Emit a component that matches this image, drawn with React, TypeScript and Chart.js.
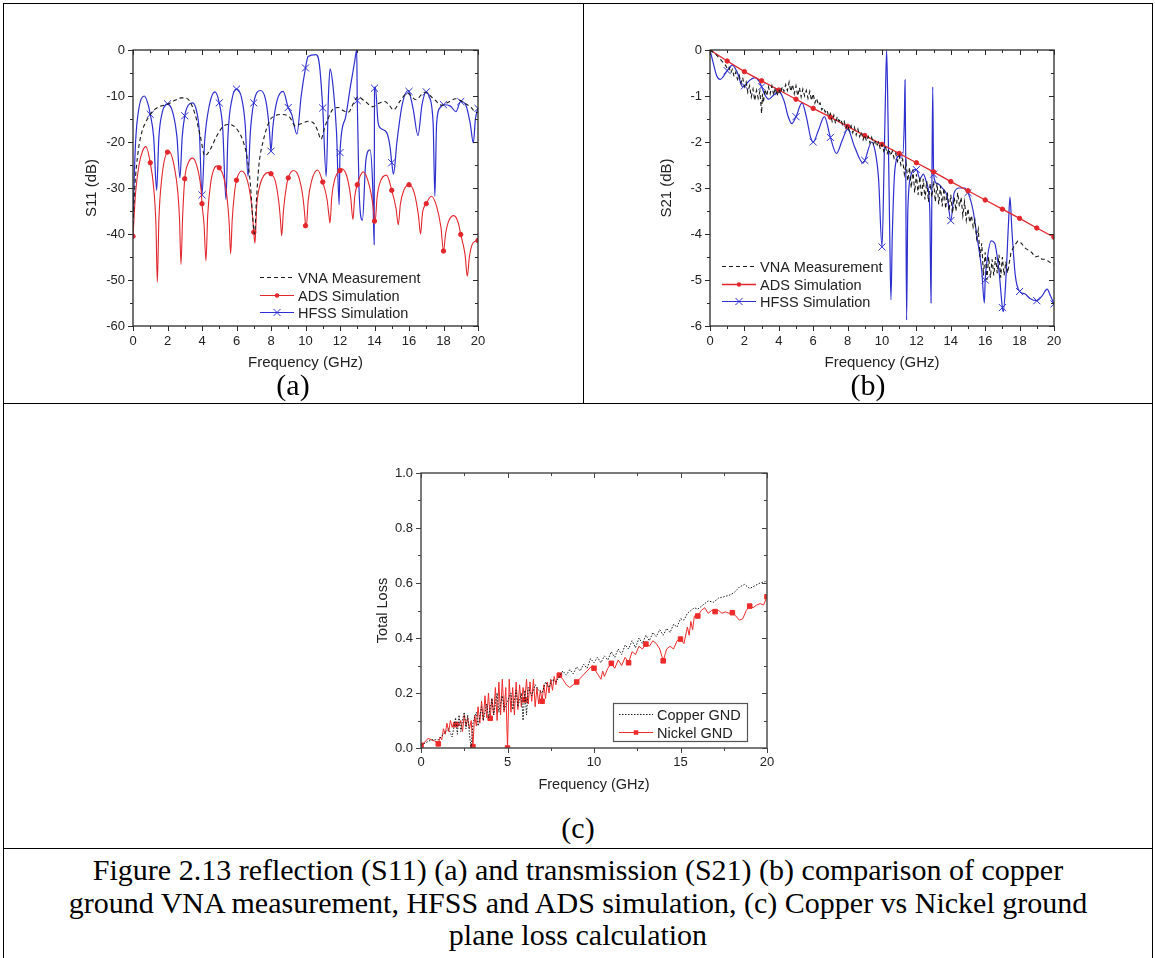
import React, { useEffect, useRef } from 'react';
import { Chart, registerables } from 'chart.js';
Chart.register(...registerables);

type Pt = [number, number];

// ================= DATA =================
// (a) S11 (dB) vs Frequency (GHz)
const s11VnaPts: Pt[] = [
  [0, -38], [0.1, -30], [0.3, -22], [0.5, -18], [0.7, -16], [1.0, -14], [1.3, -12.8], [1.6, -12.2], [2.0, -11.8],
  [2.4, -11], [2.8, -10.4], [3.1, -10.5], [3.3, -11.2], [3.6, -14], [3.9, -18.7], [4.17, -23], [4.5, -21.5],
  [4.85, -18.7], [5.3, -16.4], [5.6, -16.2], [6.1, -17.6], [6.4, -20], [6.6, -23], [6.8, -29], [6.95, -37],
  [7.05, -40], [7.15, -33], [7.3, -25], [7.54, -19.9], [7.92, -15.4], [8.3, -14.2], [8.6, -14], [9.1, -14.7],
  [9.4, -16.5], [9.7, -16.1], [10.2, -15.5], [10.5, -16], [10.7, -17.5], [10.9, -19.4], [11.1, -17], [11.3, -15],
  [11.58, -12.9], [11.9, -12.5], [12.2, -13.2], [12.5, -13.5], [12.75, -11.8], [13.04, -10.2], [13.4, -11],
  [13.9, -12.3], [14.25, -11.6], [14.6, -11.2], [14.85, -12], [15.1, -13], [15.5, -11], [15.9, -9.4], [16.4, -10.8],
  [16.9, -9.2], [17.4, -10.5], [17.9, -12], [18.3, -11.3], [18.7, -10.6], [19.2, -11.5], [19.6, -12.5], [19.9, -13.6],
  [20, -13.5],
];
const s11AdsPts: Pt[] = [
  [0, -40.5], [0.15, -31], [0.35, -25], [0.55, -22], [0.75, -21], [1, -24.5], [1.2, -30], [1.33, -38], [1.41, -50.5],
  [1.5, -37], [1.65, -28.5], [2, -22.2], [2.1, -22.1], [2.4, -25.5], [2.6, -31], [2.7, -37], [2.78, -46.6], [2.88, -36],
  [3, -28], [3.2, -24.6], [3.45, -23.5], [3.7, -25.2], [3.95, -30.5], [4, -33.4], [4.12, -38], [4.23, -45.8],
  [4.33, -36], [4.5, -29], [4.7, -25.8], [4.9, -25.2], [5, -25.6], [5.25, -27.5], [5.45, -32], [5.58, -38],
  [5.66, -44.3], [5.75, -37], [5.9, -30.5], [6, -28.3], [6.3, -26.3], [6.6, -28], [6.8, -31.5], [6.92, -35.5],
  [7, -39.6], [7.07, -42], [7.17, -34], [7.35, -29.5], [7.6, -27.2], [7.85, -26.6], [8, -26.9], [8.25, -28.5],
  [8.45, -33], [8.55, -37], [8.62, -40.4], [8.72, -35], [8.9, -29.5], [9, -27.8], [9.3, -26.2], [9.6, -27.5],
  [9.85, -32], [9.97, -36.5], [10, -38.2], [10.05, -38.5], [10.15, -33], [10.35, -28.5], [10.7, -26.1], [11, -28.7],
  [11.25, -32.5], [11.36, -36], [11.42, -37.6], [11.52, -32], [11.7, -28], [12, -26.2], [12.1, -25.8], [12.4, -27.5],
  [12.62, -32], [12.75, -36.9], [12.85, -32], [13, -29.3], [13.35, -26.5], [13.7, -29.5], [13.92, -34], [14, -37.2],
  [14.03, -37.6], [14.15, -32], [14.35, -28.5], [14.7, -27.2], [15, -30.5], [15.25, -34.5], [15.38, -38], [15.5, -33.5],
  [15.7, -30.5], [16, -29.3], [16.3, -31], [16.55, -36], [16.67, -40], [16.78, -35.5], [17, -33.4], [17.3, -31.8],
  [17.6, -34], [17.85, -38.5], [18, -43.7], [18.12, -40], [18.3, -37.2], [18.6, -36], [18.85, -37.5], [19, -40.1],
  [19.25, -44.5], [19.38, -49.2], [19.5, -45], [19.7, -42], [20, -41.4],
];
const s11HfssPts: Pt[] = [
  [0, -36], [0.15, -20], [0.35, -12.5], [0.65, -10], [0.85, -11.5], [1, -14], [1.2, -19], [1.37, -30.5], [1.5, -19],
  [1.7, -13.5], [2, -11.7], [2.3, -13.5], [2.55, -19], [2.72, -27.8], [2.85, -19], [3, -14.3], [3.2, -12], [3.45, -11.5],
  [3.7, -13.5], [3.85, -18], [4, -31.5], [4.15, -20], [4.4, -12.5], [4.75, -9.1], [5, -11.5], [5.2, -17], [5.39, -32.5],
  [5.5, -19], [5.75, -10.5], [6, -8.5], [6.3, -10.5], [6.5, -16], [6.67, -27.5], [6.8, -18], [7, -11.5], [7.4, -8.8],
  [7.7, -11], [7.9, -17], [8, -22], [8.1, -17], [8.35, -11], [8.7, -9], [9, -12.5], [9.2, -14], [9.5, -18.3],
  [9.75, -10], [10, -3.9], [10.15, -1.4], [10.6, -1.0], [10.8, -3], [11, -12.6], [11.2, -27.5], [11.33, -10],
  [11.42, -4.1], [11.6, -8], [11.8, -18], [11.95, -33.6], [12, -22.3], [12.3, -15], [12.6, -8], [12.85, -2.5],
  [12.97, 0], [13, -11], [13.1, -30], [13.3, -37], [13.5, -24], [13.74, -21.7], [13.9, -30], [13.98, -42.3], [14, -8.3],
  [14.05, -8], [14.2, -15.5], [14.35, -17], [14.7, -17.9], [14.9, -21], [15, -24.5], [15.1, -27], [15.3, -20],
  [15.6, -12], [15.94, -8.8], [16, -9], [16.25, -13], [16.52, -18.6], [16.75, -12], [17, -9.1], [17.15, -10],
  [17.4, -16], [17.5, -31.8], [17.6, -16], [17.8, -12.5], [18, -11.9], [18.4, -12.2], [18.72, -13.4], [19, -11.2],
  [19.3, -12], [19.55, -16], [19.73, -20.2], [19.85, -15], [20, -12.7],
];

// (b) S21 (dB) vs Frequency (GHz)
const s21VnaPts: Pt[] = [
  [0, 0], [0.3, -0.08], [0.6, -0.2], [0.9, -0.33], [1.0, -0.4], [1.1, -0.36], [1.2, -0.5], [1.3, -0.42], [1.4, -0.58],
  [1.5, -0.48], [1.6, -0.64], [1.7, -0.55], [1.8, -0.72], [1.9, -0.6], [2.0, -0.8], [2.1, -0.7], [2.2, -0.92],
  [2.3, -0.78], [2.4, -1.02], [2.5, -0.85], [2.6, -1.1], [2.7, -0.88], [2.8, -1.05], [2.9, -0.9], [3.0, -1.38],
  [3.05, -0.95], [3.1, -1.15], [3.2, -0.85], [3.3, -1.0], [3.4, -0.8], [3.5, -0.95], [3.6, -0.78], [3.7, -0.98],
  [3.8, -0.82], [3.9, -1.0], [4.0, -0.85], [4.1, -0.95], [4.2, -0.8], [4.3, -0.9], [4.4, -0.75], [4.5, -0.88],
  [4.6, -0.7], [4.7, -0.9], [4.8, -0.75], [4.9, -0.95], [5.0, -0.78], [5.1, -1.0], [5.2, -0.82], [5.3, -1.02],
  [5.4, -0.85], [5.5, -1.0], [5.6, -0.88], [5.7, -1.05], [5.8, -0.9], [5.9, -1.1], [6.0, -0.95], [6.1, -1.15],
  [6.2, -1.05], [6.3, -1.2], [6.4, -1.15], [6.5, -1.3], [6.6, -1.25], [6.7, -1.35], [6.8, -1.3], [6.9, -1.45],
  [7.0, -1.38], [7.1, -1.55], [7.2, -1.42], [7.3, -1.6], [7.4, -1.45], [7.5, -1.55], [7.6, -1.5], [7.7, -1.62],
  [7.8, -1.55], [7.9, -1.7], [8.0, -1.62], [8.1, -1.75], [8.2, -1.65], [8.3, -1.8], [8.4, -1.68], [8.5, -1.85],
  [8.6, -1.72], [8.7, -1.88], [8.8, -1.78], [8.9, -1.95], [9.0, -1.85], [9.1, -1.98], [9.2, -1.88], [9.3, -2.02],
  [9.4, -1.9], [9.5, -2.05], [9.6, -1.95], [9.7, -2.1], [9.8, -2.0], [9.9, -2.15], [10.0, -2.05], [10.1, -2.2],
  [10.2, -2.1], [10.3, -2.25], [10.4, -2.15], [10.5, -2.3], [10.6, -2.2], [10.7, -2.35], [10.8, -2.25], [10.9, -2.42],
  [11.0, -2.3], [11.1, -2.5], [11.2, -2.38], [11.3, -2.7], [11.4, -2.45], [11.5, -2.85], [11.6, -2.55], [11.7, -3.0],
  [11.8, -2.6], [11.9, -3.1], [12.0, -2.7], [12.1, -3.15], [12.2, -2.75], [12.3, -3.2], [12.4, -2.8], [12.5, -3.25],
  [12.6, -2.85], [12.7, -3.3], [12.8, -2.9], [12.9, -3.2], [13.0, -2.85], [13.1, -3.3], [13.2, -2.9], [13.3, -3.35],
  [13.4, -2.95], [13.5, -3.4], [13.6, -3.0], [13.7, -3.45], [13.8, -3.1], [13.9, -3.5], [14.0, -3.15], [14.1, -3.55],
  [14.2, -3.2], [14.3, -3.5], [14.4, -3.1], [14.5, -3.4], [14.6, -3.2], [14.7, -3.6], [14.8, -3.3], [14.9, -3.7],
  [15.0, -3.45], [15.1, -3.75], [15.2, -3.6], [15.3, -3.85], [15.4, -3.7], [15.5, -4.1], [15.6, -3.9], [15.7, -4.5],
  [15.8, -4.2], [15.9, -4.9], [16.0, -4.4], [16.1, -5.0], [16.2, -4.5], [16.3, -4.95], [16.4, -4.55], [16.5, -4.9],
  [16.6, -4.5], [16.7, -4.85], [16.8, -4.45], [16.9, -4.95], [17.0, -4.5], [17.1, -4.9], [17.2, -4.6], [17.3, -4.85],
  [17.5, -4.4], [17.7, -4.25], [17.9, -4.15], [18.1, -4.2], [18.3, -4.3], [18.5, -4.35], [18.7, -4.4], [18.9, -4.5],
  [19.1, -4.48], [19.3, -4.55], [19.5, -4.55], [19.7, -4.6], [19.9, -4.65], [20.0, -4.65],
];
const s21AdsPts: Pt[] = [
  [0, 0], [1, -0.24], [2, -0.47], [3, -0.67], [4, -0.87], [5, -1.07], [6, -1.27], [7, -1.46], [8, -1.66], [9, -1.86],
  [10, -2.05], [11, -2.25], [12, -2.45], [13, -2.65], [14, -2.86], [15, -3.06], [16, -3.26], [17, -3.46], [18, -3.66],
  [19, -3.87], [20, -4.07],
];
const s21HfssPts: Pt[] = [
  [0, 0], [0.2, -0.3], [0.4, -0.57], [0.6, -0.64], [0.8, -0.56], [1, -0.45], [1.3, -0.33], [1.6, -0.5], [1.9, -0.8],
  [2, -0.78], [2.3, -0.66], [2.6, -0.6], [2.85, -0.68], [3, -0.8], [3.2, -0.98], [3.4, -1.07], [3.7, -0.98], [4, -0.9],
  [4.3, -1.1], [4.55, -1.45], [4.75, -1.6], [5, -1.45], [5.35, -1.15], [5.6, -1.45], [5.85, -1.9], [6, -2.0],
  [6.3, -1.75], [6.65, -1.45], [7, -1.9], [7.35, -2.25], [7.7, -1.95], [8, -1.72], [8.4, -2.1], [8.9, -2.46], [9, -2.4],
  [9.4, -2.0], [9.6, -2.2], [9.8, -2.8], [10, -4.28], [10.12, -2.5], [10.2, -1.0], [10.27, 0], [10.35, -1.5],
  [10.45, -4.0], [10.52, -5.43], [10.6, -4.0], [10.75, -2.6], [11, -2.3], [11.2, -2.3], [11.3, -1.5], [11.34, -0.65],
  [11.38, -2.5], [11.43, -5.87], [11.5, -3.5], [11.7, -2.7], [11.9, -2.6], [12, -2.6], [12.2, -2.8], [12.4, -2.7],
  [12.6, -2.9], [12.78, -3.5], [12.85, -5.5], [12.9, -3.0], [12.95, -0.8], [13, -2.7], [13.2, -2.9], [13.5, -3.0],
  [13.8, -3.2], [14, -3.71], [14.2, -3.1], [14.5, -3.0], [14.8, -3.0], [15, -3.1], [15.3, -3.5], [15.5, -4.0],
  [15.8, -4.8], [15.95, -5.5], [16, -5.0], [16.1, -4.6], [16.35, -4.15], [16.55, -4.2], [16.8, -4.8], [17, -5.6],
  [17.05, -5.69], [17.2, -5.0], [17.35, -3.8], [17.44, -3.2], [17.55, -3.9], [17.75, -4.9], [18, -5.25], [18.3, -5.3],
  [18.6, -5.4], [19, -5.45], [19.3, -5.35], [19.6, -5.2], [19.8, -5.35], [20, -5.52],
];

// (c) Total Loss vs Frequency (GHz)
const lossCopperPts: Pt[] = [
  [0, 0.01], [0.3, 0.02], [0.6, 0.03], [1.0, 0.03], [1.3, 0.05], [1.6, 0.07], [1.8, 0.04], [2.0, 0.11], [2.1, 0.05],
  [2.2, 0.12], [2.3, 0.06], [2.4, 0.1], [2.5, 0.13], [2.6, 0.07], [2.7, 0.12], [2.8, 0.05], [2.9, 0.0], [3.0, 0.09],
  [3.2, 0.13], [3.3, 0.08], [3.5, 0.15], [3.6, 0.1], [3.8, 0.16], [3.9, 0.11], [4.1, 0.18], [4.2, 0.12], [4.4, 0.2],
  [4.5, 0.13], [4.7, 0.19], [4.8, 0.14], [5.0, 0.17], [5.2, 0.2], [5.3, 0.14], [5.5, 0.21], [5.6, 0.15], [5.8, 0.2],
  [5.9, 0.1], [6.0, 0.21], [6.1, 0.12], [6.2, 0.22], [6.4, 0.19], [6.6, 0.23], [6.8, 0.21], [7.0, 0.2], [7.2, 0.24],
  [7.4, 0.22], [7.6, 0.25], [7.8, 0.24], [8.0, 0.26], [8.2, 0.28], [8.4, 0.265], [8.6, 0.285], [8.8, 0.27],
  [9.0, 0.295], [9.2, 0.28], [9.4, 0.305], [9.6, 0.29], [9.8, 0.325], [10.0, 0.31], [10.2, 0.33], [10.4, 0.31],
  [10.6, 0.335], [10.8, 0.32], [11.0, 0.35], [11.2, 0.33], [11.4, 0.36], [11.6, 0.34], [11.8, 0.375], [12.0, 0.36],
  [12.2, 0.39], [12.4, 0.365], [12.6, 0.4], [12.8, 0.38], [13.0, 0.41], [13.2, 0.39], [13.4, 0.42], [13.6, 0.405],
  [13.8, 0.43], [14.0, 0.41], [14.2, 0.435], [14.4, 0.42], [14.6, 0.45], [14.8, 0.44], [15.0, 0.47], [15.2, 0.465],
  [15.4, 0.49], [15.6, 0.5], [15.8, 0.51], [16.0, 0.505], [16.3, 0.52], [16.6, 0.535], [16.9, 0.53], [17.2, 0.545],
  [17.5, 0.55], [17.8, 0.555], [18.1, 0.565], [18.4, 0.585], [18.7, 0.595], [19.0, 0.58], [19.3, 0.59], [19.6, 0.6],
  [19.9, 0.605], [20.0, 0.61],
];
const lossNickelPts: Pt[] = [
  [0, 0.01], [0.2, 0.02], [0.4, 0.035], [0.6, 0.03], [0.8, 0.025], [1.0, 0.015], [1.1, 0.04], [1.2, 0.03], [1.3, 0.07],
  [1.4, 0.05], [1.5, 0.09], [1.6, 0.06], [1.7, 0.1], [1.8, 0.075], [1.9, 0.09], [2.0, 0.085], [2.1, 0.095], [2.2, 0.08],
  [2.3, 0.1], [2.4, 0.06], [2.5, 0.12], [2.6, 0.08], [2.7, 0.11], [2.8, 0.07], [2.9, 0.1], [3.0, 0.005], [3.1, 0.12],
  [3.2, 0.08], [3.3, 0.15], [3.4, 0.09], [3.5, 0.17], [3.6, 0.1], [3.7, 0.19], [3.8, 0.11], [3.9, 0.2], [4.0, 0.108],
  [4.1, 0.18], [4.2, 0.12], [4.3, 0.22], [4.4, 0.1], [4.5, 0.24], [4.6, 0.12], [4.7, 0.25], [4.8, 0.13], [4.9, 0.22],
  [5.0, 0.0], [5.1, 0.25], [5.2, 0.13], [5.3, 0.22], [5.4, 0.12], [5.5, 0.24], [5.6, 0.14], [5.7, 0.23], [5.8, 0.15],
  [5.9, 0.22], [6.0, 0.175], [6.1, 0.25], [6.2, 0.16], [6.3, 0.24], [6.4, 0.17], [6.5, 0.25], [6.6, 0.15], [6.7, 0.22],
  [6.8, 0.16], [6.9, 0.21], [7.0, 0.17], [7.1, 0.23], [7.2, 0.18], [7.3, 0.24], [7.4, 0.2], [7.5, 0.25], [7.6, 0.21],
  [7.7, 0.26], [7.8, 0.23], [7.9, 0.27], [8.0, 0.265], [8.2, 0.25], [8.4, 0.23], [8.6, 0.22], [8.8, 0.23], [9.0, 0.24],
  [9.3, 0.26], [9.6, 0.28], [9.9, 0.3], [10.0, 0.29], [10.2, 0.27], [10.4, 0.25], [10.5, 0.28], [10.6, 0.26],
  [10.8, 0.29], [11.0, 0.308], [11.2, 0.29], [11.4, 0.32], [11.6, 0.3], [11.8, 0.33], [12.0, 0.31], [12.2, 0.35],
  [12.4, 0.34], [12.6, 0.37], [12.8, 0.36], [13.0, 0.378], [13.2, 0.37], [13.4, 0.39], [13.6, 0.38], [13.8, 0.36],
  [14.0, 0.317], [14.2, 0.36], [14.4, 0.37], [14.6, 0.36], [14.8, 0.39], [15.0, 0.396], [15.2, 0.38], [15.4, 0.44],
  [15.5, 0.41], [15.6, 0.46], [15.7, 0.43], [15.8, 0.48], [16.0, 0.48], [16.2, 0.5], [16.4, 0.51], [16.6, 0.49],
  [16.8, 0.5], [17.0, 0.496], [17.2, 0.5], [17.4, 0.49], [17.6, 0.495], [17.8, 0.49], [18.0, 0.492], [18.2, 0.48],
  [18.4, 0.465], [18.6, 0.47], [18.8, 0.5], [19.0, 0.516], [19.2, 0.51], [19.4, 0.52], [19.6, 0.525], [19.8, 0.52],
  [20.0, 0.55],
];

const namesAB = ['VNA Measurement', 'ADS Simulation', 'HFSS Simulation'];
const namesC = ['Copper GND', 'Nickel GND'];
const panelLabels = ['(a)', '(b)', '(c)'];
const captionLines = [
  'Figure 2.13 reflection (S11) (a) and transmission (S21) (b) comparison of copper',
  'ground VNA measurement, HFSS and ADS simulation, (c) Copper vs Nickel ground',
  'plane loss calculation',
];

// ================= STYLE / HELPERS =================
const SANS = "'Liberation Sans', Arial, sans-serif";
const SERIF = "'Liberation Serif', 'Times New Roman', serif";
const RED = '#e3262c';
const BLUE = '#2d2fd0';
const INK = '#222';

function drawMarker(ctx: CanvasRenderingContext2D, style: string, x: number, y: number, r: number, color: string) {
  ctx.save();
  ctx.setLineDash([]);
  ctx.fillStyle = color;
  ctx.strokeStyle = color;
  ctx.lineWidth = 1;
  if (style === 'circle') {
    ctx.beginPath();
    ctx.arc(x, y, r, 0, Math.PI * 2);
    ctx.fill();
  } else if (style === 'rect') {
    const s = r * Math.SQRT1_2;
    ctx.fillRect(x - s, y - s, 2 * s, 2 * s);
  } else if (style === 'crossRot') {
    const d = r * Math.SQRT1_2;
    ctx.beginPath();
    ctx.moveTo(x - d, y - d);
    ctx.lineTo(x + d, y + d);
    ctx.moveTo(x + d, y - d);
    ctx.lineTo(x - d, y + d);
    ctx.stroke();
  }
  ctx.restore();
}

const framePlugin = {
  id: 'frame',
  afterDraw(chart: any, _args: any, o: any) {
    const { ctx } = chart;
    const { left, right, top, bottom } = chart.chartArea;
    const xs = chart.scales.x;
    const ys = chart.scales.y;
    ctx.save();
    ctx.setLineDash([]);
    ctx.strokeStyle = o.color;
    ctx.lineWidth = o.width;
    ctx.strokeRect(left, top, right - left, bottom - top);
    ctx.lineWidth = 1;
    const nx = Math.round((xs.max - xs.min) / o.xMinor);
    for (let i = 0; i <= nx; i++) {
      const v = xs.min + i * o.xMinor;
      const major = Math.abs(v / o.xMajor - Math.round(v / o.xMajor)) < 1e-6;
      const len = major ? o.majorLen : o.minorLen;
      const px = Math.round(xs.getPixelForValue(v)) + 0.5;
      ctx.beginPath();
      ctx.moveTo(px, bottom);
      ctx.lineTo(px, bottom + len);
      ctx.moveTo(px, top);
      ctx.lineTo(px, top + len);
      ctx.stroke();
    }
    const ny = Math.round((ys.max - ys.min) / o.yMinor);
    for (let i = 0; i <= ny; i++) {
      const v = ys.min + i * o.yMinor;
      const major = Math.abs(v / o.yMajor - Math.round(v / o.yMajor)) < 1e-6;
      const len = major ? o.majorLen : o.minorLen;
      const py = Math.round(ys.getPixelForValue(v)) + 0.5;
      ctx.beginPath();
      ctx.moveTo(left - len, py);
      ctx.lineTo(left, py);
      ctx.moveTo(right - len, py);
      ctx.lineTo(right, py);
      ctx.stroke();
    }
    ctx.restore();
  },
};

const legendPlugin = {
  id: 'boxLegend',
  afterDraw(chart: any, _args: any, o: any) {
    if (!o || !o.rows) return;
    const { ctx } = chart;
    const ca = chart.chartArea;
    const x0 = ca.left + o.x;
    const y0 = ca.top + o.y;
    ctx.save();
    if (o.box) {
      ctx.fillStyle = '#fff';
      ctx.fillRect(ca.left + o.box[0], ca.top + o.box[1], o.box[2], o.box[3]);
      ctx.strokeStyle = '#555';
      ctx.lineWidth = 1.2;
      ctx.strokeRect(ca.left + o.box[0] + 0.5, ca.top + o.box[1] + 0.5, o.box[2], o.box[3]);
    }
    chart.data.datasets.forEach((ds: any, i: number) => {
      const y = Math.round(y0 + i * o.rowH) + 0.5;
      const col = ds.legendColor;
      ctx.save();
      ctx.strokeStyle = col;
      ctx.lineWidth = ds.borderWidth;
      ctx.setLineDash(ds.borderDash || []);
      ctx.beginPath();
      ctx.moveTo(x0, y);
      ctx.lineTo(x0 + o.lineLen, y);
      ctx.stroke();
      ctx.restore();
      if (ds.legendMarker) drawMarker(ctx, ds.legendMarker, x0 + o.lineLen / 2, y, ds.markerR, col);
      ctx.fillStyle = INK;
      ctx.font = `${o.fontSize}px ${SANS}`;
      ctx.textAlign = 'left';
      ctx.textBaseline = 'middle';
      ctx.fillText(ds.label, x0 + o.lineLen + o.gap, y + 1);
    });
    ctx.restore();
  },
};

function makeDataset(label: string, pts: Pt[], s: any) {
  return {
    label,
    data: pts.map(([x, y]) => ({ x, y })),
    borderColor: s.color,
    backgroundColor: s.color,
    borderWidth: s.width,
    borderDash: s.dash || [],
    pointStyle: s.marker || 'circle',
    pointRadius: (c: any) => (s.marker && c.raw && Number.isInteger(c.raw.x) && !(s.skipZero && c.raw.x === 0) ? s.markerR : 0),
    pointHoverRadius: 0,
    pointBackgroundColor: s.color,
    pointBorderColor: s.color,
    pointBorderWidth: 1,
    cubicInterpolationMode: s.smooth ? 'monotone' : 'default',
    tension: 0,
    fill: false,
    legendMarker: s.marker || null,
    legendColor: s.color,
    markerR: s.markerR || 0,
  };
}

type PanelSpec = {
  canvas: [number, number, number, number]; // left, top, width, height (page px)
  plot: [number, number, number, number]; // left, top, right, bottom (page px)
  yW: number;
  xH: number;
  xPad: number;
  datasets: any[];
  x: any;
  y: any;
  frame: any;
  legend: any;
};

function buildConfig(p: PanelSpec) {
  const [cl, ct, cw, ch] = p.canvas;
  const [pl, pt, pr, pb] = p.plot;
  const padding = {
    left: pl - cl - p.yW,
    top: pt - ct,
    right: cl + cw - pr,
    bottom: ct + ch - pb - p.xH,
  };
  return {
    type: 'line',
    data: { datasets: p.datasets },
    options: {
      animation: false,
      responsive: false,
      devicePixelRatio: 1,
      layout: { padding },
      plugins: {
        legend: { display: false },
        tooltip: { enabled: false },
        frame: p.frame,
        boxLegend: p.legend,
      },
      scales: {
        x: {
          type: 'linear',
          position: 'bottom',
          min: p.x.min,
          max: p.x.max,
          grid: { display: false, drawTicks: false },
          border: { display: false },
          ticks: {
            stepSize: p.x.step,
            autoSkip: false,
            maxRotation: 0,
            padding: p.xPad,
            color: INK,
            font: { family: SANS, size: p.x.tickSize },
            callback: p.x.fmt,
          },
          title: {
            display: true,
            text: p.x.title,
            color: INK,
            font: { family: SANS, size: p.x.titleSize },
            padding: { top: 0, bottom: 0 },
          },
          afterFit: (s: any) => {
            s.height = p.xH;
            s.paddingLeft = 0;
            s.paddingRight = 0;
          },
        },
        y: {
          type: 'linear',
          position: 'left',
          min: p.y.min,
          max: p.y.max,
          grid: { display: false, drawTicks: false },
          border: { display: false },
          ticks: {
            stepSize: p.y.step,
            autoSkip: false,
            padding: 8,
            color: INK,
            font: { family: SANS, size: p.y.tickSize },
            callback: p.y.fmt,
          },
          title: {
            display: true,
            text: p.y.title,
            color: INK,
            font: { family: SANS, size: p.y.titleSize },
            padding: { top: 0, bottom: 0 },
          },
          afterFit: (s: any) => {
            s.width = p.yW;
            s.paddingTop = 0;
            s.paddingBottom = 0;
          },
        },
      },
    },
    plugins: [framePlugin, legendPlugin],
  };
}

const intFmt = (v: any) => String(Number(v));
const oneDec = (v: any) => Number(v).toFixed(1);

const frameAB = { color: '#2a2a2a', width: 1.3, xMajor: 2, xMinor: 1, yMajor: 1, yMinor: 0.5, majorLen: 5, minorLen: 3 };

const panelA: PanelSpec = {
  canvas: [30, 20, 480, 370],
  plot: [133, 50, 478, 326],
  yW: 50,
  xH: 46,
  xPad: 8,
  datasets: [
    makeDataset(namesAB[0], s11VnaPts, { color: '#1a1a1a', width: 1.1, dash: [4, 3], smooth: true }),
    makeDataset(namesAB[1], s11AdsPts, { color: RED, width: 1.1, marker: 'circle', markerR: 2.2, smooth: true }),
    makeDataset(namesAB[2], s11HfssPts, { color: BLUE, width: 1.2, marker: 'crossRot', markerR: 5, smooth: true, skipZero: true }),
  ],
  x: { min: 0, max: 20, step: 2, tickSize: 13, title: 'Frequency (GHz)', titleSize: 15, fmt: intFmt },
  y: { min: -60, max: 0, step: 10, tickSize: 13, title: 'S11 (dB)', titleSize: 15, fmt: intFmt },
  frame: { ...frameAB, yMajor: 10, yMinor: 5 },
  legend: { rows: 3, x: 127, y: 227, rowH: 17.5, lineLen: 34, gap: 4, fontSize: 14.5 },
};

const panelB: PanelSpec = {
  canvas: [605, 20, 480, 370],
  plot: [710, 50, 1054, 326],
  yW: 52,
  xH: 46,
  xPad: 8,
  datasets: [
    makeDataset(namesAB[0], s21VnaPts, { color: '#1a1a1a', width: 1.1, dash: [4, 3] }),
    makeDataset(namesAB[1], s21AdsPts, { color: RED, width: 1.3, marker: 'circle', markerR: 2.2 }),
    makeDataset(namesAB[2], s21HfssPts, { color: BLUE, width: 1.2, marker: 'crossRot', markerR: 5, smooth: true, skipZero: true }),
  ],
  x: { min: 0, max: 20, step: 2, tickSize: 13, title: 'Frequency (GHz)', titleSize: 15, fmt: intFmt },
  y: { min: -6, max: 0, step: 1, tickSize: 13, title: 'S21 (dB)', titleSize: 15, fmt: intFmt },
  frame: { ...frameAB, yMajor: 1, yMinor: 0.5 },
  legend: { rows: 3, x: 12, y: 216, rowH: 17.5, lineLen: 34, gap: 4, fontSize: 14.5 },
};

const panelC: PanelSpec = {
  canvas: [320, 440, 480, 370],
  plot: [421, 473, 767, 748],
  yW: 47,
  xH: 46,
  xPad: 7,
  datasets: [
    makeDataset(namesC[0], lossCopperPts, { color: '#1a1a1a', width: 1, dash: [1.5, 1.5] }),
    makeDataset(namesC[1], lossNickelPts, { color: '#ee2a2a', width: 1, marker: 'rect', markerR: 3.2 }),
  ],
  x: { min: 0, max: 20, step: 5, tickSize: 13, title: 'Frequency (GHz)', titleSize: 14.5, fmt: intFmt },
  y: { min: 0, max: 1, step: 0.2, tickSize: 13, title: 'Total Loss', titleSize: 14.5, fmt: oneDec },
  frame: { color: '#444', width: 1.4, xMajor: 5, xMinor: 2.5, yMajor: 0.2, yMinor: 0.1, majorLen: 5, minorLen: 3 },
  legend: { rows: 2, x: 198, y: 241, rowH: 17.5, lineLen: 34, gap: 4, fontSize: 14.5, box: [192, 230, 134, 38] },
};

function ChartPanel({ spec }: { spec: PanelSpec }) {
  const ref = useRef<HTMLCanvasElement>(null);
  useEffect(() => {
    if (!ref.current) return;
    const chart = new Chart(ref.current, buildConfig(spec) as any);
    return () => chart.destroy();
  }, [spec]);
  const [l, t, w, h] = spec.canvas;
  return (
    <canvas
      ref={ref}
      width={w}
      height={h}
      style={{ position: 'absolute', left: l, top: t, width: w, height: h }}
    />
  );
}

const line = (l: number, t: number, w: number, h: number) => (
  <div style={{ position: 'absolute', left: l, top: t, width: w, height: h, background: '#000' }} />
);

const labelStyle = (cx: number, cy: number): React.CSSProperties => ({
  position: 'absolute',
  left: cx - 100,
  top: cy - 17,
  width: 200,
  height: 34,
  lineHeight: '34px',
  textAlign: 'center',
  fontFamily: SERIF,
  fontSize: 30,
  color: '#000',
});

export default function App() {
  return (
    <div style={{ position: 'absolute', left: 0, top: 0, width: 1155, height: 958, background: '#fff', overflow: 'hidden' }}>
      <ChartPanel spec={panelA} />
      <ChartPanel spec={panelB} />
      <ChartPanel spec={panelC} />
      <div style={labelStyle(293, 385)}>{panelLabels[0]}</div>
      <div style={labelStyle(868, 385)}>{panelLabels[1]}</div>
      <div style={labelStyle(578, 828)}>{panelLabels[2]}</div>
      {captionLines.map((t, i) => (
        <div
          key={i}
          style={{
            position: 'absolute',
            left: 4,
            width: 1148,
            top: 853 + i * 32.5,
            height: 34,
            lineHeight: '34px',
            textAlign: 'center',
            fontFamily: SERIF,
            fontSize: 30,
            color: '#000',
            whiteSpace: 'nowrap',
          }}
        >
          {t}
        </div>
      ))}
      {line(3, 3, 1150, 1)}
      {line(3, 3, 1, 955)}
      {line(1152, 3, 1, 955)}
      {line(583, 3, 1, 400)}
      {line(3, 403, 1150, 1)}
      {line(3, 848, 1150, 1)}
    </div>
  );
}
